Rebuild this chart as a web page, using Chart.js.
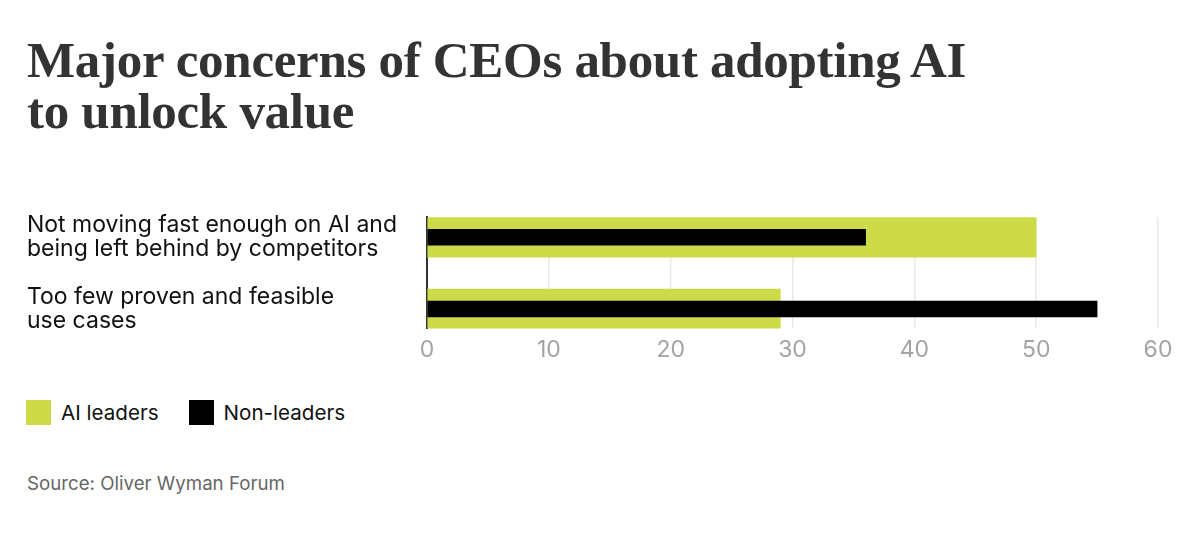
<!DOCTYPE html>
<html>
<head>
<meta charset="utf-8">
<script src="https://cdn.jsdelivr.net/npm/chart.js@4/dist/chart.umd.min.js"></script>
<style>
  html, body { margin: 0; padding: 0; background: #fff; }
  body { width: 1203px; height: 541px; position: relative; overflow: hidden; font-family: Inter, "Noto Sans", sans-serif; }
  #title { position: absolute; left: 27px; top: 35px; font-family: "Liberation Serif", serif; font-weight: bold; font-size: 51px; line-height: 51px; color: #333; letter-spacing: -0.3px; }
  #chartWrap { position: absolute; left: 0; top: 190px; width: 1203px; height: 188px; }
  #legend { position: absolute; left: 26px; top: 400px; display: flex; align-items: center; font-size: 20.6px; color: #111; }
  .item { display: flex; align-items: center; margin-right: 30px; }
  .sw { width: 25px; height: 25px; margin-right: 10px; }
  #source { position: absolute; left: 27px; top: 472px; font-size: 18.7px; color: #666; }
</style>
</head>
<body>
<div id="title">Major concerns of CEOs about adopting AI<br>to unlock value</div>
<div id="chartWrap"><canvas id="c"></canvas></div>
<div id="legend"></div>
<div id="source">Source: Oliver Wyman Forum</div>
<script>
const categories = [
  ["Not moving fast enough on AI and", "being left behind by competitors"],
  ["Too few proven and feasible", "use cases"]
];
const seriesNames = ["AI leaders", "Non-leaders"];
const aiLeaders = [50, 29];
const nonLeaders = [36, 55];
const xTicks = [0, 10, 20, 30, 40, 50, 60];
const colors = ["#cedb48", "#000000"];

const datasets = [
  {
    label: seriesNames[0],
    data: aiLeaders.map((v, i) => ({ x: v, y: i })),
    backgroundColor: colors[0],
    barThickness: 40,
    grouped: false,
    order: 2
  },
  {
    label: seriesNames[1],
    data: nonLeaders.map((v, i) => ({ x: v, y: i })),
    backgroundColor: colors[1],
    barThickness: 16,
    grouped: false,
    order: 1
  }
];

new Chart(document.getElementById('c'), {
  type: 'bar',
  data: { datasets },
  options: {
    indexAxis: 'y',
    responsive: true,
    maintainAspectRatio: false,
    animation: false,
    layout: { padding: { left: 27, right: 45, top: 26, bottom: 6 } },
    plugins: { legend: { display: false }, tooltip: { enabled: false } },
    scales: {
      x: {
        type: 'linear',
        min: xTicks[0],
        max: xTicks[xTicks.length - 1],
        afterBuildTicks: s => { s.ticks = xTicks.map(v => ({ value: v })); },
        grid: { color: '#e9e9e9', lineWidth: 1.5, drawTicks: false },
        border: { display: false },
        ticks: { color: '#a3a3a3', font: { family: 'Inter', size: 23 }, padding: 8 }
      },
      y: {
        type: 'linear',
        reverse: true,
        offset: false,
        min: -0.28,
        max: 1.27,
        afterBuildTicks: s => { s.ticks = categories.map((c, i) => ({ value: i })); },
        afterFit: s => { s.width = 400; },
        grid: { display: false, drawTicks: false, offset: false },
        border: { display: true, color: '#333', width: 2 },
        ticks: {
          crossAlign: 'far',
          autoSkip: false,
          color: '#111',
          font: { family: 'Inter', size: 23, lineHeight: 1.05 },
          callback: v => categories[v] || ''
        }
      }
    }
  }
});

const legend = document.getElementById('legend');
seriesNames.forEach((n, i) => {
  const it = document.createElement('div');
  it.className = 'item';
  it.innerHTML = '<div class="sw" style="background:' + colors[i] + '"></div><span>' + n + '</span>';
  legend.appendChild(it);
});
</script>
</body>
</html>
